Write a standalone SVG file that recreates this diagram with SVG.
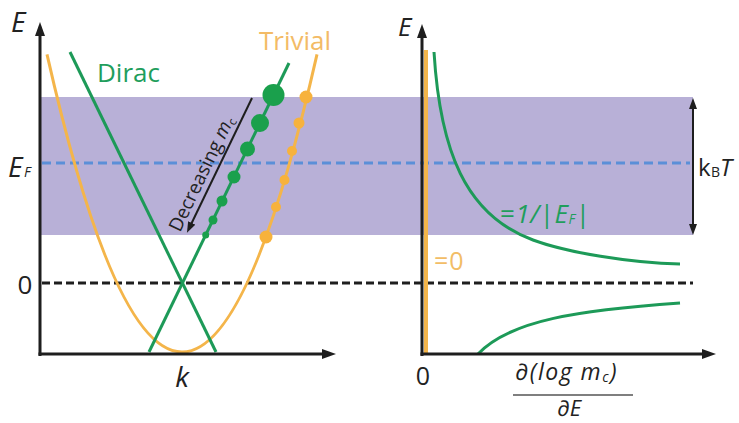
<svg xmlns="http://www.w3.org/2000/svg" width="739" height="423" viewBox="0 0 739 423">
<defs>
<style>
.ax{stroke:#1e1e1e;stroke-width:3;fill:none}
.grn{stroke:#1d9a58;stroke-width:3;fill:none}
.org{stroke:#f4b54a;stroke-width:3;fill:none}
.gd{fill:#1aa04c}
.od{fill:#f7b23c}
.t{font-family:"Open Sans","DejaVu Sans",sans-serif}
.i{font-style:italic}
.lbl{fill:#222}
</style>
<marker id="arr" viewBox="0 0 14 10" refX="6" refY="5" markerWidth="14" markerHeight="10" markerUnits="userSpaceOnUse" orient="auto"><path d="M0,0 L14,5 L0,10 z" fill="#1e1e1e"/></marker>
<marker id="sarr" viewBox="0 0 11 8" refX="4" refY="4" markerWidth="11" markerHeight="8" markerUnits="userSpaceOnUse" orient="auto"><path d="M0,0 L11,4 L0,8 z" fill="#1e1e1e"/></marker>
</defs>
<rect width="739" height="423" fill="#ffffff"/>
<g id="band"><rect x="40" y="97" width="653" height="138" fill="#b8b0d7"/></g>
<g id="lines">
<line x1="42" y1="163" x2="690" y2="163" stroke="#5b8fd8" stroke-width="3" stroke-dasharray="9 5"/>
<line x1="42" y1="283" x2="693" y2="283" stroke="#1e1e1e" stroke-width="3" stroke-dasharray="8 4"/>
</g>
<g id="left-curves">
<path class="org" d="M47,54.4 Q182,649.6 317,54.4"/>
<line class="grn" x1="70" y1="52" x2="216" y2="352"/>
<line class="grn" x1="149" y1="352" x2="289" y2="63"/>
<circle class="gd" cx="273.5" cy="95" r="11"/>
<circle class="gd" cx="260" cy="123" r="9"/>
<circle class="gd" cx="247.5" cy="149" r="7.5"/>
<circle class="gd" cx="234" cy="177" r="6.5"/>
<circle class="gd" cx="222" cy="201" r="5.5"/>
<circle class="gd" cx="213" cy="220" r="4.5"/>
<circle class="gd" cx="205.7" cy="235" r="3.5"/>
<circle class="od" cx="306" cy="97" r="6.5"/>
<circle class="od" cx="299" cy="123" r="5.5"/>
<circle class="od" cx="292" cy="151" r="5"/>
<circle class="od" cx="284.5" cy="180" r="5"/>
<circle class="od" cx="276" cy="207" r="5"/>
<circle class="od" cx="266" cy="237" r="6.5"/>
</g>
<g id="decreasing">
<line x1="252" y1="98" x2="190" y2="226.5" stroke="#1e1e1e" stroke-width="2" marker-end="url(#sarr)"/>
<text class="t lbl" font-size="19" transform="translate(180,233) rotate(-64.3)">Decreasing <tspan class="i">m</tspan><tspan font-size="12" dy="3">c</tspan></text>
</g>
<g id="left-axes">
<line class="ax" x1="40" y1="356" x2="40" y2="30" marker-end="url(#arr)"/>
<line class="ax" x1="38.5" y1="354" x2="328" y2="354" marker-end="url(#arr)"/>
</g>
<g id="right-curves">
<rect x="424" y="50" width="4" height="304" fill="#f4b54a"/>
<path class="grn" d="M434,52 C440,150 465,215 533,240 C567,252.5 630,263 680,264"/>
<path class="grn" d="M478,354 C510,320 580,310 680,303"/>
</g>
<g id="right-axes">
<line class="ax" x1="422" y1="356" x2="422" y2="32" marker-end="url(#arr)"/>
<line class="ax" x1="420.5" y1="354" x2="708" y2="354" marker-end="url(#arr)"/>
<line x1="693" y1="160" x2="693" y2="105" stroke="#1e1e1e" stroke-width="2" marker-end="url(#sarr)"/>
<line x1="693" y1="160" x2="693" y2="228" stroke="#1e1e1e" stroke-width="2" marker-end="url(#sarr)"/>
<line x1="513" y1="395" x2="633" y2="395" stroke="#555" stroke-width="1.5"/>
</g>
<g id="labels">
<text class="t i lbl" x="11" y="32" font-size="28">E</text>
<text class="t i lbl" x="8" y="177" font-size="28">E</text>
<text class="t i lbl" x="24" y="177" font-size="14">F</text>
<text class="t lbl" x="25" y="294" font-size="26" text-anchor="middle">0</text>
<text class="t i lbl" x="182" y="387" font-size="28" text-anchor="middle">k</text>
<text class="t" x="97" y="82" font-size="26" fill="#1f9e5c">Dirac</text>
<text class="t" x="259" y="50" font-size="26" fill="#f3bb66">Trivial</text>
<text class="t i lbl" x="398" y="36" font-size="26">E</text>
<text class="t lbl" x="698" y="176" font-size="24">k</text>
<text class="t lbl" x="711" y="177" font-size="14">B</text>
<text class="t i lbl" x="720" y="176" font-size="24">T</text>
<text class="t" x="500" y="223" font-size="26" fill="#1f9e5c" letter-spacing="0.5">=<tspan class="i">1/</tspan>|<tspan class="i">E</tspan><tspan class="i" font-size="14" dy="1">F</tspan><tspan dy="-1">|</tspan></text>
<text class="t" x="434" y="270" font-size="25" fill="#f2bd66" letter-spacing="1">=0</text>
<text class="t lbl" x="423" y="385" font-size="25" text-anchor="middle">0</text>
<text class="t i lbl" x="515" y="380" font-size="23" letter-spacing="1.5">∂(log m<tspan font-size="14" dy="2">c</tspan><tspan dy="-2">)</tspan></text>
<text class="t i lbl" x="569" y="416" font-size="22" text-anchor="middle">∂E</text>
</g>
</svg>
